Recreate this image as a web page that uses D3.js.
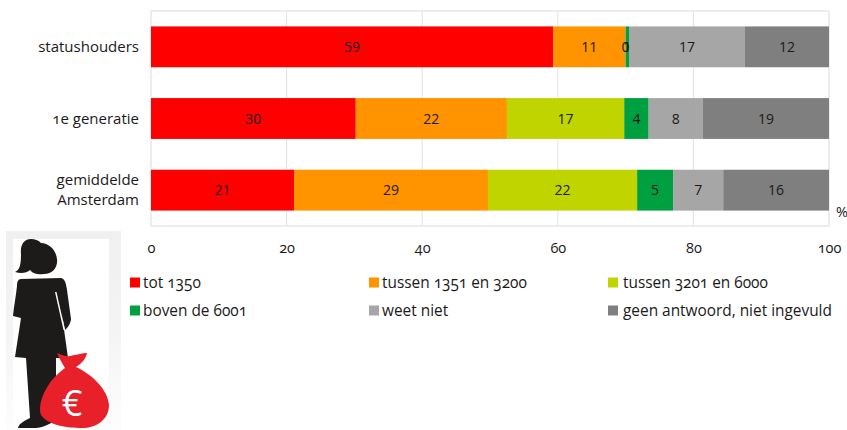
<!DOCTYPE html>
<html><head><meta charset="utf-8">
<script src="https://cdn.jsdelivr.net/npm/d3@7"></script>
<style>
html,body{margin:0;padding:0;background:#fff}
svg{display:block}
text{font-family:"Open Sans","Noto Sans",sans-serif;fill:#1a1a1a}
.old{font-feature-settings:"onum" 1;font-variant-numeric:oldstyle-nums}
</style></head><body>
<svg id="c" width="847" height="430"></svg>
<script>
const categories=["statushouders","1e generatie","gemiddelde Amsterdam"];
const seriesNames=["tot 1350","tussen 1351 en 3200","tussen 3201 en 6000","boven de 6001","weet niet","geen antwoord, niet ingevuld"];
const seriesColors=["#ff0000","#ff9300","#c0d400","#00a040","#a6a6a6","#7f7f7f"];
const tot1350=[59.3,30.2,21.1];
const tussen1351=[10.7,22.3,28.6];
const tussen3201=[0,17.3,22];
const boven6001=[0.5,3.6,5.3];
const weetNiet=[17.1,8.0,7.4];
const geenAntwoord=[12.4,18.6,15.6];
const xTicks=[0,20,40,60,80,100];
const series=[tot1350,tussen1351,tussen3201,boven6001,weetNiet,geenAntwoord];

const svg=d3.select("#c");
const x=d3.scaleLinear().domain([0,100]).range([151,829]);
const y=d3.scaleBand().domain(categories).range([11,226]).paddingInner(0.43).paddingOuter(0.215);

// frame and gridlines
const grid="#e4e4e4";
svg.append("rect").attr("x",151).attr("y",11).attr("width",678).attr("height",215)
  .attr("fill","none").attr("stroke",grid).attr("stroke-width",1.3);
svg.selectAll("line.g").data(xTicks.slice(1,-1)).join("line").attr("class","g")
  .attr("x1",d=>x(d)).attr("x2",d=>x(d)).attr("y1",11).attr("y2",226)
  .attr("stroke",grid).attr("stroke-width",1.1);

// bars
const stackRows=categories.map((c,i)=>{let a=0;return series.map((s,k)=>{const r={c,k,v:s[i],x0:a,x1:a+s[i]};a+=s[i];return r;});});
const rows=svg.selectAll("g.row").data(stackRows).join("g").attr("class","row");
rows.selectAll("rect").data(d=>d).join("rect")
  .attr("x",d=>x(d.x0)).attr("width",d=>x(d.x1)-x(d.x0))
  .attr("y",d=>y(d.c)).attr("height",y.bandwidth())
  .attr("fill",d=>seriesColors[d.k]);
rows.selectAll("text").data(d=>d).join("text")
  .attr("x",d=>(x(d.x0)+x(d.x1))/2).attr("y",d=>y(d.c)+y.bandwidth()/2+5)
  .attr("text-anchor","middle").attr("font-size",14)
  .attr("fill","#1a1a1a").text(d=>Math.round(d.v));

// category labels
const catLines={"gemiddelde Amsterdam":["gemiddelde","Amsterdam"]};
categories.forEach(c=>{
  const lines=catLines[c]||[c];
  const t=svg.append("text").attr("class","old").attr("text-anchor","end").attr("font-size",15);
  const cy=y(c)+y.bandwidth()/2;
  lines.forEach((l,i)=>t.append("tspan").attr("x",139)
    .attr("y",cy+5+(i-(lines.length-1)/2)*20).text(l));
});

// x axis labels
const axis=d3.axisBottom(x).tickValues(xTicks).tickSize(0).tickPadding(0);
const ag=svg.append("g").attr("transform","translate(0,243)").call(axis);
ag.select(".domain").remove();
ag.selectAll("text").attr("class","old").attr("font-size",14.5).attr("font-family",null).attr("fill","#1a1a1a");
svg.append("text").attr("x",836).attr("y",217).attr("font-size",14.5).text("%");

// legend
const legX=[130,369,608], legY=[283,311], legT=[143,382,623];
seriesNames.forEach((n,i)=>{
  const cx=i%3, r=Math.floor(i/3);
  svg.append("rect").attr("x",legX[cx]).attr("y",legY[r]-5.5).attr("width",10).attr("height",10).attr("fill",seriesColors[i]);
  svg.append("text").attr("class","old").attr("x",legT[cx]).attr("y",legY[r]+4.5).attr("font-size",15.4).text(n);
});

// icon
const defs=svg.append("defs");
const lg=defs.append("linearGradient").attr("id","bgf").attr("x1",0).attr("x2",0).attr("y1",0).attr("y2",1);
lg.append("stop").attr("offset",0).attr("stop-color","#f0f0f0");
lg.append("stop").attr("offset",0.45).attr("stop-color","#f3f3f3");
lg.append("stop").attr("offset",1).attr("stop-color","#fdfdfd");
const ic=svg.append("g");
ic.append("rect").attr("x",6).attr("y",231).attr("width",115).attr("height",199).attr("fill","url(#bgf)");
ic.append("rect").attr("x",13).attr("y",239).attr("width",96).attr("height",191).attr("fill","#fff");
const k="#1d1a1a";
ic.append("path").attr("fill",k).attr("d","M31 239C24 239 20 245 21 254C21 264 20 270 15 272C21 274 27 273 30 270C33 274 38 275 44 274C53 274 58 267 57 259C56 250 49 243 41 243C38 240 35 239 31 239Z");
ic.append("path").attr("fill",k).attr("d","M21 279L61 278C65 279 66 283 67 290L71 319C71 322 68 328 65 330L62 315L68 358L56 358L56 420C50 424 42 428 36 428L18 428C19 423 26 420 30 418L26 358L15 357L21 318L13 316C14 305 16 296 17 286C17 282 18 279 21 279Z");
ic.append("path").attr("fill","#fff").attr("d","M55 292L56.5 292L65 330L63.5 330Z");
ic.append("path").attr("fill","#e8202a").attr("d","M57 353C62 355 66 357 70 356C76 355 82 353 87 353C86 359 81 364 76 367C93 375 108 390 109 405C109 420 96 428 82 428C66 428 48 425 41 415C37 405 45 382 65 368C62 363 59 358 57 353Z");
ic.append("text").attr("x",72).attr("y",416).attr("text-anchor","middle").attr("font-size",36).style("fill","#fff").text("€");
</script></body></html>
